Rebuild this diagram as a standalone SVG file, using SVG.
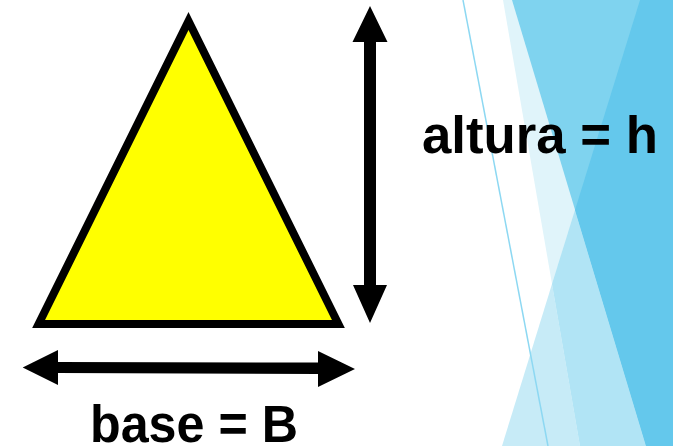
<svg xmlns="http://www.w3.org/2000/svg" width="673" height="446" viewBox="0 0 673 446">
<style>
.lbl{font-family:"Liberation Sans",Arial,sans-serif;font-weight:bold;font-size:51px;fill:#000}
.arrow{fill:#000}
</style>
<rect width="673" height="446" fill="#fff"/>
<g id="background">
<polygon points="503,0 673,0 673,446 580,446" fill="#e0f4fa"/>
<polygon points="512,0 673,0 673,446 646,446" fill="#7fd3ef"/>
<polygon points="552,284 580,446 502,446" fill="#c7ebf7"/>
<polygon points="552,284 575,210 646,446 580,446" fill="#b1e4f5"/>
<polygon points="640,0 673,0 673,446 646,446 575,210" fill="#64c8ec"/>
<line x1="463" y1="0" x2="548" y2="446" stroke="#8dd8f2" stroke-width="1.5"/>
</g>
<g id="triangle">
<polygon points="188.5,21 338.4,324 38.6,324" fill="#ffff00" stroke="#000" stroke-width="8" stroke-linejoin="miter"/>
</g>
<g id="connectors">
<polygon class="arrow" points="370,6 387.5,42 376,42 376,285 387,285 370,323 353,285 364,285 364,42 352.5,42"/>
<polygon class="arrow" points="22.7,367.5 58,350 58,362 318,362.5 318,351 355,369 318,387 318,374 58,373 58,385"/>
</g>
<g id="label-altura">
<text class="lbl" x="422" y="153" textLength="236" lengthAdjust="spacingAndGlyphs">altura = h</text>
</g>
<g id="label-base">
<text class="lbl" x="90" y="442" textLength="208" lengthAdjust="spacingAndGlyphs">base = B</text>
</g>
</svg>
